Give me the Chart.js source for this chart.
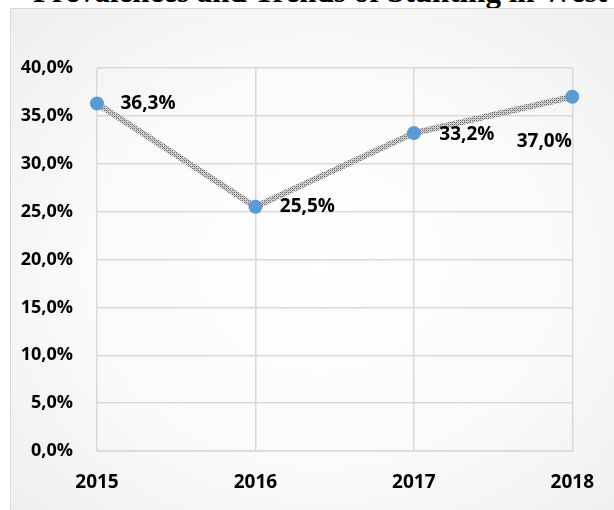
<!DOCTYPE html>
<html>
<head>
<meta charset="utf-8">
<script src="https://cdn.jsdelivr.net/npm/chart.js@4"></script>
<style>
    html, body { margin: 0; padding: 0; background: #ffffff; overflow: hidden; }
    #wrap { position: relative; width: 614px; height: 510px; overflow: hidden; }
    #title {
        position: absolute; left: 33px; top: -24px;
        font: bold 31px "Liberation Serif", "Times New Roman", serif;
        line-height: 31px; white-space: nowrap; color: #000;
    }
    #box {
        position: absolute; left: 10px; top: 8px; width: 620px; height: 520px;
        border: 1px solid #d9d9d9;
        background: radial-gradient(ellipse at center, #ffffff 0%, #fafafa 55%, #eeeeee 100%);
    }
    #chart { position: absolute; left: 0; top: 0; }
</style>
</head>
<body>
<div id="wrap">
    <div id="title">Prevalences and Trends of Stunting in West</div>
    <div id="box"></div>
    <canvas id="chart" width="614" height="510"></canvas>
</div>
<script>
// Values (percent)
const years = ['2015', '2016', '2017', '2018'];
const stunting = [36.3, 25.5, 33.2, 37.0];
const yTicks = [0, 5, 10, 15, 20, 25, 30, 35, 40];

// Label offsets from each point, in pixels
const LABEL_OFFSETS = [[51, 0], [52, 0], [53, 1], [-28, 45]];

const FONT = '"Open Sans", Lato, sans-serif';

function fmt(v) {
    return v.toFixed(1).replace('.', ',') + '%';
}

// Hatched grey pattern for the line
function makePattern() {
    const c = document.createElement('canvas');
    c.width = 4; c.height = 4;
    const g = c.getContext('2d');
    g.fillStyle = '#d6d6d6';
    g.fillRect(0, 0, 4, 4);
    g.fillStyle = '#666666';
    g.fillRect(0, 0, 1, 1); g.fillRect(2, 2, 1, 1);
    g.fillRect(2, 0, 1, 1); g.fillRect(0, 2, 1, 1);
    g.fillStyle = '#999999';
    g.fillRect(1, 1, 1, 1); g.fillRect(3, 3, 1, 1);
    return g.createPattern(c, 'repeat');
}

const valueLabels = {
    id: 'valueLabels',
    afterDatasetsDraw(chart) {
        const ctx = chart.ctx;
        const meta = chart.getDatasetMeta(0);
        ctx.save();
        ctx.font = 'bold 19px ' + FONT;
        ctx.fillStyle = '#000';
        ctx.textAlign = 'center';
        ctx.textBaseline = 'middle';
        meta.data.forEach((pt, i) => {
            const [dx, dy] = LABEL_OFFSETS[i];
            ctx.fillText(fmt(stunting[i]), pt.x + dx, pt.y + dy);
        });
        ctx.restore();
    }
};

const ctx = document.getElementById('chart').getContext('2d');
new Chart(ctx, {
    type: 'line',
    data: {
        labels: years,
        datasets: [{
            data: stunting,
            borderColor: makePattern(),
            borderWidth: 6,
            tension: 0,
            pointRadius: 7,
            pointHoverRadius: 7,
            pointBackgroundColor: '#5b9bd5',
            pointBorderColor: '#5b9bd5',
            pointBorderWidth: 0,
            clip: false
        }]
    },
    options: {
        responsive: false,
        animation: false,
        events: [],
        layout: { padding: { left: 10, right: 28, top: 68, bottom: 10 } },
        plugins: {
            legend: { display: false },
            tooltip: { enabled: false },
            title: { display: false }
        },
        scales: {
            x: {
                offset: false,
                grid: { color: '#d9d9d9', lineWidth: 1.5, drawTicks: false },
                border: { color: '#d9d9d9', width: 1.5 },
                ticks: {
                    color: '#000',
                    padding: 20,
                    font: { family: FONT, size: 19, weight: 'bold' }
                },
                afterFit(scale) { scale.height = 49; }
            },
            y: {
                min: 0,
                max: 40,
                afterBuildTicks(scale) {
                    scale.ticks = yTicks.map(v => ({ value: v }));
                },
                grid: { color: '#d9d9d9', lineWidth: 1.5, drawTicks: false },
                border: { display: false },
                ticks: {
                    color: '#000',
                    padding: 24,
                    callback: v => fmt(v),
                    font: { family: FONT, size: 18, weight: 'bold' }
                },
                afterFit(scale) { scale.width = 87; }
            }
        }
    },
    plugins: [valueLabels]
});
</script>
</body>
</html>
